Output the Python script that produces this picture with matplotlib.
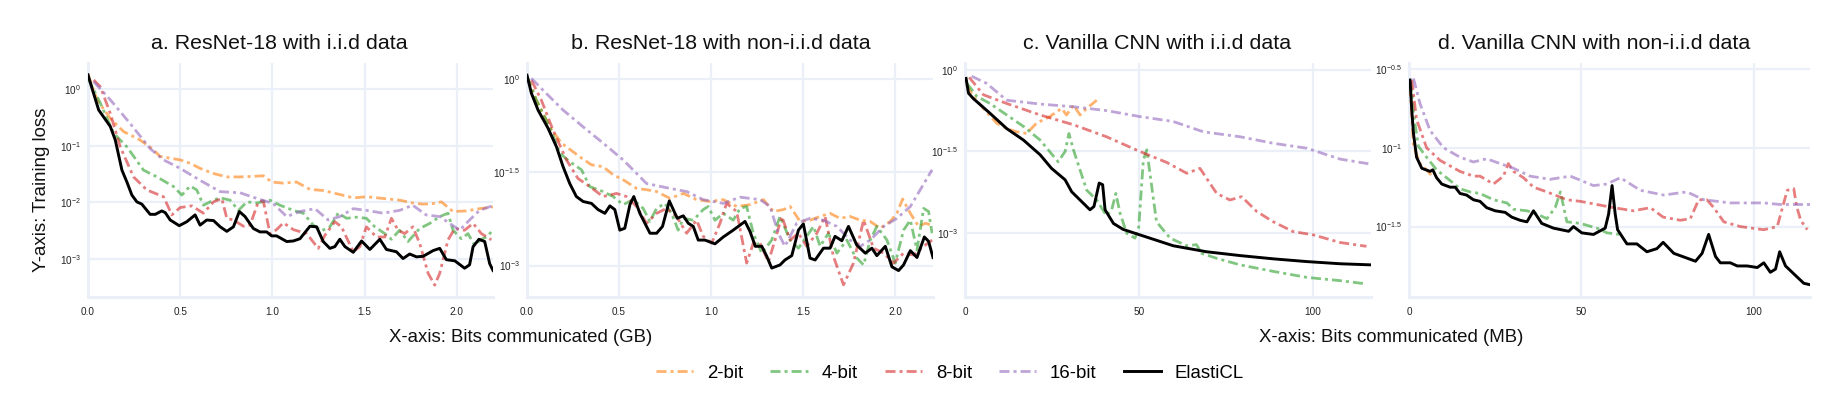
import numpy as np
import matplotlib
matplotlib.use("Agg")
import matplotlib.pyplot as plt
from matplotlib.lines import Line2D

plt.rcParams['font.family'] = ['Liberation Sans', 'DejaVu Sans']
plt.rcParams['mathtext.fontset'] = 'custom'
plt.rcParams['mathtext.rm'] = 'Liberation Sans'
plt.rcParams['mathtext.it'] = 'Liberation Sans'

# ---------------- data (x, log10 loss) ----------------
# Panel a: ResNet-18 i.i.d (x in GB)
a_2bit_x = [0, .049, .121, .193, .283, .347, .392, .446, .5, .554, .608, .681, .753, .825, .897, .951, .996, 1.06, 1.131, 1.204, 1.276, 1.366, 1.439, 1.51, 1.601, 1.69, 1.762, 1.818, 1.872, 1.917, 1.98, 2.052, 2.124, 2.197]
a_2bit_y = [.26, -.19, -.52, -.75, -.9, -1.05, -1.19, -1.22, -1.25, -1.31, -1.4, -1.49, -1.55, -1.55, -1.54, -1.53, -1.64, -1.66, -1.64, -1.77, -1.79, -1.86, -1.92, -1.9, -1.93, -1.96, -2.01, -2.03, -2.02, -1.99, -2.16, -2.15, -2.11, -2.08]
a_4bit_x = [0, .067, .139, .211, .301, .374, .464, .509, .554, .59, .626, .681, .717, .771, .816, .862, .916, .987, 1.042, 1.114, 1.168, 1.222, 1.267, 1.312, 1.357, 1.403, 1.457, 1.51, 1.556, 1.61, 1.646, 1.69, 1.736, 1.799, 1.854, 1.908, 1.953, 1.98, 2.025, 2.061, 2.097, 2.134, 2.161, 2.197]
a_4bit_y = [.19, -.25, -.78, -1.02, -1.43, -1.55, -1.72, -1.87, -1.71, -1.78, -2.05, -1.96, -1.92, -1.96, -2.14, -1.99, -2.01, -1.96, -2.05, -2.14, -2.19, -2.4, -2.5, -2.43, -2.19, -2.28, -2.26, -2.28, -2.43, -2.55, -2.65, -2.49, -2.69, -2.46, -2.37, -2.25, -2.19, -2.49, -2.64, -2.55, -2.75, -2.65, -2.61, -2.49]
a_8bit_x = [.031, .067, .121, .175, .247, .319, .41, .455, .5, .563, .626, .681, .726, .753, .789, .843, .879, .924, .951, .987, 1.023, 1.06, 1.114, 1.186, 1.249, 1.285, 1.339, 1.375, 1.439, 1.475, 1.51, 1.565, 1.61, 1.646, 1.682, 1.718, 1.762, 1.799, 1.845, 1.881, 1.908, 1.953, 1.99, 2.043, 2.089, 2.134, 2.188]
a_8bit_y = [.16, .04, -.43, -1.02, -1.55, -1.78, -1.9, -2.22, -2.09, -2.06, -2.19, -1.99, -1.93, -2.28, -2.31, -2.42, -2.4, -1.99, -1.97, -2.55, -2.48, -2.36, -2.48, -2.55, -2.81, -2.58, -2.34, -2.43, -2.87, -2.78, -2.43, -2.61, -2.61, -2.28, -2.49, -2.55, -2.43, -2.72, -3.25, -3.46, -3.25, -2.66, -2.46, -2.49, -2.37, -2.55, -2.66]
a_16bit_x = [.031, .121, .229, .337, .41, .5, .608, .717, .825, .916, 1.005, 1.078, 1.15, 1.231, 1.303, 1.366, 1.439, 1.51, 1.601, 1.69, 1.762, 1.834, 1.908, 1.962, 2.016, 2.07, 2.124, 2.193]
a_16bit_y = [.13, -.19, -.61, -1.05, -1.25, -1.4, -1.61, -1.81, -1.83, -1.93, -2.02, -2.25, -2.16, -2.11, -2.31, -2.25, -2.11, -2.14, -2.19, -2.14, -2.05, -2.22, -2.25, -2.37, -2.49, -2.31, -2.14, -2.06]
a_elastic_x = [0, .022, .058, .121, .148, .184, .211, .238, .265, .292, .337, .365, .4, .419, .446, .495, .536, .581, .608, .644, .681, .717, .753, .789, .821, .852, .897, .933, .969, .996, 1.023, 1.078, 1.114, 1.15, 1.204, 1.24, 1.276, 1.312, 1.339, 1.366, 1.394, 1.439, 1.484, 1.529, 1.583, 1.619, 1.673, 1.709, 1.745, 1.782, 1.818, 1.872, 1.908, 1.944, 1.99, 2.043, 2.07, 2.089, 2.121, 2.152, 2.179, 2.197]
a_elastic_y = [.25, .01, -.37, -.66, -.9, -1.43, -1.64, -1.87, -1.99, -2.03, -2.21, -2.21, -2.15, -2.18, -2.31, -2.41, -2.34, -2.22, -2.4, -2.31, -2.32, -2.43, -2.51, -2.43, -2.16, -2.25, -2.46, -2.52, -2.52, -2.59, -2.59, -2.69, -2.68, -2.64, -2.42, -2.43, -2.69, -2.81, -2.78, -2.65, -2.78, -2.88, -2.68, -2.83, -2.65, -2.83, -2.87, -2.99, -2.91, -2.96, -2.95, -2.85, -2.81, -3.01, -3.03, -3.16, -3.1, -2.78, -2.65, -2.69, -3.08, -3.2]

# Panel b: ResNet-18 non-i.i.d (x in GB)
b_2bit_x = [0, .051, .123, .187, .232, .286, .35, .413, .468, .522, .595, .649, .704, .777, .849, .921, .994, 1.066, 1.139, 1.211, 1.284, 1.338, 1.393, 1.429, 1.483, 1.537, 1.592, 1.646, 1.7, 1.755, 1.809, 1.864, 1.918, 1.973, 2.009, 2.04, 2.082, 2.127, 2.163, 2.2]
b_2bit_y = [.04, -.34, -.77, -1.03, -1.13, -1.25, -1.38, -1.41, -1.54, -1.62, -1.76, -1.78, -1.81, -1.92, -1.84, -1.94, -1.97, -1.94, -2.05, -2.02, -1.94, -2.13, -2.1, -2.05, -2.29, -2.27, -2.21, -2.16, -2.24, -2.21, -2.27, -2.29, -2.4, -2.29, -2.16, -1.93, -2.16, -2.37, -2.32, -2.35]
b_4bit_x = [0, .051, .123, .178, .232, .296, .341, .413, .468, .522, .577, .631, .667, .704, .749, .785, .821, .849, .903, .957, .984, 1.021, 1.066, 1.12, 1.157, 1.193, 1.229, 1.275, 1.329, 1.374, 1.429, 1.474, 1.519, 1.556, 1.592, 1.637, 1.683, 1.737, 1.782, 1.828, 1.864, 1.9, 1.955, 2.0, 2.045, 2.082, 2.118, 2.154, 2.181, 2.2]
b_4bit_y = [.04, -.34, -.77, -1.19, -1.33, -1.46, -1.73, -1.81, -1.89, -2.02, -1.94, -2.08, -2.29, -2.08, -2.0, -2.16, -2.43, -2.24, -2.27, -2.1, -2.05, -2.27, -2.16, -2.27, -2.08, -2.05, -2.48, -2.8, -2.59, -2.21, -2.59, -2.72, -2.53, -2.37, -2.69, -2.48, -2.8, -2.59, -2.85, -2.99, -2.59, -2.37, -2.59, -2.96, -2.43, -2.27, -2.75, -2.08, -2.13, -2.48]
b_8bit_x = [.024, .078, .141, .214, .277, .341, .413, .486, .54, .595, .649, .704, .758, .812, .867, .921, .957, 1.003, 1.048, 1.084, 1.139, 1.193, 1.229, 1.266, 1.311, 1.347, 1.384, 1.429, 1.474, 1.519, 1.574, 1.619, 1.664, 1.719, 1.773, 1.828, 1.882, 1.937, 1.991, 2.045, 2.1, 2.154, 2.2]
b_8bit_y = [-.02, -.34, -.82, -1.3, -1.6, -1.73, -1.89, -1.84, -1.89, -2.05, -2.32, -2.16, -2.08, -2.21, -2.48, -2.27, -2.53, -2.64, -2.32, -2.0, -2.13, -2.96, -2.64, -2.64, -2.94, -2.59, -2.21, -2.59, -2.48, -2.69, -2.48, -2.21, -2.85, -3.31, -2.96, -2.27, -2.72, -2.8, -2.96, -2.8, -2.83, -2.69, -2.59]
b_16bit_x = [.024, .087, .196, .305, .413, .522, .649, .777, .867, .957, 1.066, 1.157, 1.266, 1.32, 1.365, 1.401, 1.465, 1.537, 1.61, 1.683, 1.755, 1.81, 1.864, 1.937, 2.009, 2.082, 2.136, 2.2]
b_16bit_y = [.01, -.18, -.5, -.77, -1.03, -1.3, -1.68, -1.76, -1.81, -1.94, -2.0, -1.9, -1.94, -2.05, -2.48, -2.69, -2.32, -2.24, -2.27, -2.37, -2.59, -2.69, -2.59, -2.37, -2.24, -2.05, -1.78, -1.46]
b_elastic_x = [0, .024, .06, .114, .16, .196, .232, .268, .305, .35, .386, .423, .45, .477, .504, .531, .559, .58, .613, .668, .704, .736, .773, .816, .849, .876, .903, .93, .966, 1.021, 1.066, 1.12, 1.184, 1.211, 1.24, 1.275, 1.302, 1.329, 1.374, 1.401, 1.438, 1.474, 1.501, 1.537, 1.565, 1.61, 1.646, 1.673, 1.71, 1.746, 1.791, 1.837, 1.873, 1.9, 1.946, 1.982, 2.018, 2.045, 2.082, 2.118, 2.158, 2.181, 2.205]
b_elastic_y = [.06, -.23, -.5, -.79, -1.09, -1.41, -1.68, -1.89, -1.97, -2.0, -2.1, -2.16, -2.04, -2.1, -2.43, -2.4, -2.02, -1.89, -2.16, -2.48, -2.48, -2.37, -1.96, -2.24, -2.2, -2.32, -2.37, -2.59, -2.59, -2.65, -2.54, -2.43, -2.29, -2.45, -2.69, -2.69, -2.85, -3.04, -2.99, -2.91, -2.84, -2.43, -2.33, -2.88, -2.91, -2.72, -2.72, -2.53, -2.6, -2.37, -2.67, -2.8, -2.72, -2.84, -2.69, -3.02, -3.08, -2.99, -2.76, -2.87, -2.54, -2.61, -2.87]

# Panel c: Vanilla CNN i.i.d (x in MB)
c_2bit_x = [.5, 2.4, 5.3, 9.1, 12.0, 14.9, 17.7, 20.6, 24.4, 27.8, 29.2, 31.2, 33.1, 35.0, 37.9]
c_2bit_y = [-.28, -.49, -.71, -.98, -1.08, -1.14, -1.17, -.98, -.86, -.71, -.83, -.65, -.83, -.71, -.56]
c_4bit_x = [.5, 1.9, 3.4, 7.2, 12.0, 16.8, 21.6, 26.8, 28.8, 29.9, 31.2, 35.0, 37.9, 40.7, 42.2, 43.4, 44.6, 46.5, 48.9, 50.0, 51.3, 52.3, 53.2, 55.1, 59.0, 63.8, 66.6, 68.1, 72.4, 79.1, 88.7, 98.3, 107.9, 115.5]
c_4bit_y = [-.25, -.36, -.49, -.62, -.83, -1.04, -1.29, -1.69, -1.5, -1.17, -1.47, -2.21, -2.39, -2.68, -2.57, -2.27, -2.63, -3.0, -3.09, -2.88, -1.66, -1.47, -1.9, -2.79, -3.09, -3.23, -3.21, -3.37, -3.46, -3.58, -3.7, -3.81, -3.87, -3.93]
c_8bit_x = [1.2, 5.3, 12.0, 21.6, 31.2, 40.7, 50.3, 58.0, 63.8, 67.6, 72.4, 76.2, 79.6, 83.9, 88.7, 94.4, 100.2, 107.9, 115.5]
c_8bit_y = [-.14, -.46, -.62, -.83, -1.01, -1.23, -1.5, -1.7, -1.9, -1.81, -2.27, -2.39, -2.33, -2.6, -2.79, -2.97, -3.03, -3.17, -3.24]
c_16bit_x = [1.9, 6.2, 12.0, 21.6, 31.2, 40.7, 50.3, 59.9, 68.6, 79.1, 88.7, 98.3, 107.9, 116.5]
c_16bit_y = [-.12, -.25, -.56, -.63, -.68, -.75, -.86, -.95, -1.14, -1.23, -1.35, -1.44, -1.64, -1.73]
c_elastic_x = [.3, 1.0, 2.4, 7.2, 12.0, 16.8, 21.6, 24.9, 28.8, 30.7, 35.95, 37.1, 38.6, 39.6, 40.3, 42.7, 45.5, 50.3, 55.1, 59.9, 69.5, 79.1, 88.7, 98.3, 107.9, 116.5]
c_elastic_y = [-.16, -.43, -.53, -.8, -1.08, -1.29, -1.56, -1.81, -2.02, -2.24, -2.57, -2.51, -2.08, -2.11, -2.57, -2.82, -2.93, -3.03, -3.13, -3.23, -3.34, -3.41, -3.47, -3.52, -3.56, -3.58]

# Panel d: Vanilla CNN non-i.i.d (x in MB)
d_2bit_x = [.3, 1.3, 3.2, 5.1, 7.1]
d_2bit_y = [-.61, -.99, -1.1, -1.14, -1.19]
d_4bit_x = [.5, 1.3, 2.7, 5.1, 8.0, 10.9, 14.8, 17.7, 20.6, 24.5, 28.4, 30.3, 34.2, 37.1, 40.0, 42.4, 43.9, 44.6, 45.8, 49.7, 54.5, 57.4, 61.3]
d_4bit_y = [-.58, -.78, -.99, -1.06, -1.14, -1.19, -1.26, -1.28, -1.29, -1.33, -1.35, -1.39, -1.4, -1.42, -1.45, -1.38, -1.28, -1.35, -1.47, -1.48, -1.51, -1.54, -1.55]
d_8bit_x = [.8, 2.2, 5.1, 9.0, 14.8, 18.7, 20.6, 24.5, 27.4, 28.8, 30.3, 33.2, 36.1, 40.0, 45.8, 49.7, 54.5, 59.3, 65.1, 70.0, 73.7, 78.7, 81.6, 84.0, 86.4, 88.4, 91.3, 96.1, 102.9, 106.8, 109.7, 111.6, 112.4, 113.6, 115.5]
d_8bit_y = [-.57, -.82, -1.0, -1.08, -1.15, -1.18, -1.18, -1.23, -1.18, -1.1, -1.15, -1.19, -1.25, -1.28, -1.33, -1.34, -1.36, -1.38, -1.4, -1.38, -1.44, -1.46, -1.45, -1.33, -1.33, -1.38, -1.47, -1.5, -1.52, -1.5, -1.27, -1.26, -1.37, -1.46, -1.52]
d_16bit_x = [1.3, 3.2, 6.1, 10.0, 14.8, 18.7, 22.5, 26.4, 30.3, 35.1, 41.0, 46.8, 53.5, 57.4, 61.3, 67.1, 73.9, 80.6, 85.5, 93.2, 102.9, 107.7, 116.5]
d_16bit_y = [-.56, -.72, -.89, -1.0, -1.06, -1.09, -1.07, -1.1, -1.13, -1.18, -1.2, -1.18, -1.24, -1.23, -1.19, -1.27, -1.3, -1.28, -1.33, -1.35, -1.35, -1.36, -1.36]
d_elastic_x = [.3, .8, 1.3, 2.2, 3.7, 6.1, 6.9, 8.0, 9.5, 11.9, 13.4, 14.8, 16.7, 18.7, 20.6, 22.5, 25.0, 27.9, 29.8, 32.2, 34.2, 36.1, 38.5, 41.9, 46.3, 47.7, 50.1, 53.5, 56.9, 57.9, 58.9, 59.8, 60.5, 63.2, 66.1, 69.0, 71.9, 73.7, 76.8, 83.1, 85.0, 86.9, 88.9, 90.3, 93.2, 95.2, 98.1, 101.0, 102.9, 104.8, 106.3, 107.5, 109.2, 111.6, 114.5, 116.5]
d_elastic_y = [-.57, -.76, -.91, -1.06, -1.13, -1.15, -1.14, -1.19, -1.23, -1.25, -1.25, -1.29, -1.3, -1.33, -1.34, -1.38, -1.4, -1.41, -1.44, -1.46, -1.47, -1.4, -1.48, -1.51, -1.53, -1.5, -1.54, -1.55, -1.51, -1.42, -1.24, -1.42, -1.52, -1.61, -1.61, -1.66, -1.64, -1.6, -1.67, -1.72, -1.67, -1.55, -1.69, -1.73, -1.73, -1.75, -1.75, -1.76, -1.73, -1.79, -1.77, -1.66, -1.75, -1.8, -1.86, -1.87]

titles = ["a. ResNet-18 with i.i.d data", "b. ResNet-18 with non-i.i.d data",
          "c. Vanilla CNN with i.i.d data", "d. Vanilla CNN with non-i.i.d data"]
series_names = ["2-bit", "4-bit", "8-bit", "16-bit", "ElastiCL"]
xticks_gb = [0.0, 0.5, 1.0, 1.5, 2.0]
xticks_mb = [0, 50, 100]
ytick_exps = [[0, -1, -2, -3], [0, -1.5, -3], [0, -1.5, -3], [-0.5, -1, -1.5]]

panels = [
    [(a_2bit_x, a_2bit_y), (a_4bit_x, a_4bit_y), (a_8bit_x, a_8bit_y), (a_16bit_x, a_16bit_y), (a_elastic_x, a_elastic_y)],
    [(b_2bit_x, b_2bit_y), (b_4bit_x, b_4bit_y), (b_8bit_x, b_8bit_y), (b_16bit_x, b_16bit_y), (b_elastic_x, b_elastic_y)],
    [(c_2bit_x, c_2bit_y), (c_4bit_x, c_4bit_y), (c_8bit_x, c_8bit_y), (c_16bit_x, c_16bit_y), (c_elastic_x, c_elastic_y)],
    [(d_2bit_x, d_2bit_y), (d_4bit_x, d_4bit_y), (d_8bit_x, d_8bit_y), (d_16bit_x, d_16bit_y), (d_elastic_x, d_elastic_y)],
]

# ---------------- style ----------------
W, H = 1842, 397
colors = ["#ff7f0e", "#2ca02c", "#d62728", "#9467bd", "#000000"]
alphas = [0.6, 0.6, 0.6, 0.6, 1.0]
grid_c = "#ebf0f8"
dash = (3.6, 1.45, 1.1, 1.45)
LW = 2.0

boxes = [(88, 493), (527, 933), (965, 1371), (1409, 1810)]
top_px, bot_px = 63, 297
ylims = [(-3.668, 0.459), (-3.505, 0.257), (-4.17, 0.123), (-1.947, -0.462)]
xlims = [(0, 2.197), (0, 2.205), (0, 116.8), (0, 116.3)]
title_cx = [279, 721, 1157, 1594]

fig = plt.figure(figsize=(W / 100, H / 100), dpi=100)

def fmt_exp(e):
    if float(e).is_integer():
        s = str(int(e))
    else:
        s = str(e)
    return r"$10^{" + s + "}$"

for i, (l, r) in enumerate(boxes):
    ax = fig.add_axes([l / W, 1 - bot_px / H, (r - l) / W, (bot_px - top_px) / H])
    ax.set_yscale('log')
    for k, (xs, ys) in enumerate(panels[i]):
        yv = 10.0 ** np.array(ys)
        if k < 4:
            ax.plot(xs, yv, color=colors[k], alpha=alphas[k], lw=LW, dashes=dash, zorder=3)
        else:
            ax.plot(xs, yv, color=colors[k], lw=2.1, zorder=4)
    ax.set_xlim(*xlims[i])
    ax.set_ylim(10 ** ylims[i][0], 10 ** ylims[i][1])
    ax.set_xticks(xticks_gb if i < 2 else xticks_mb)
    ax.set_xticklabels([f"{t:.1f}" for t in xticks_gb] if i < 2 else [str(t) for t in xticks_mb])
    ax.yaxis.set_minor_locator(matplotlib.ticker.NullLocator())
    ax.set_yticks([10.0 ** e for e in ytick_exps[i]])
    ax.set_yticklabels([fmt_exp(e) for e in ytick_exps[i]])
    ax.tick_params(axis='both', length=0, labelsize=7.2, colors='#2a3f5f', labelcolor='#222222')
    ax.tick_params(axis='x', pad=7)
    ax.tick_params(axis='y', pad=5)
    ax.grid(True, color=grid_c, lw=1.6, zorder=0)
    ax.set_axisbelow(True)
    for s in ['top', 'right']:
        ax.spines[s].set_visible(False)
    for s in ['left', 'bottom']:
        ax.spines[s].set_color(grid_c)
        ax.spines[s].set_linewidth(2.2)
    fig.text(title_cx[i] / W, 1 - 43.5 / H, titles[i], ha='center', va='center', fontsize=15.4, color='#111111')

fig.text(521 / W, 1 - 338 / H, "X-axis: Bits communicated (GB)", ha='center', va='center', fontsize=13.4, color='#111111')
fig.text(1391 / W, 1 - 338 / H, "X-axis: Bits communicated (MB)", ha='center', va='center', fontsize=13.4, color='#111111')
fig.text(42 / W, 1 - 190 / H, "Y-axis: Training loss", ha='center', va='center', rotation=90, fontsize=13.4, color='#111111')

handles = []
for k in range(5):
    if k < 4:
        handles.append(Line2D([], [], color=colors[k], alpha=alphas[k], lw=LW, dashes=dash))
    else:
        handles.append(Line2D([], [], color=colors[k], lw=2.1))
fig.legend(handles, series_names, loc='center', bbox_to_anchor=(950 / W, 1 - 373 / H), ncol=5,
           frameon=False, fontsize=13.4, handlelength=2.0, handletextpad=0.75, columnspacing=1.45)

fig.savefig("out.png", dpi=100)
